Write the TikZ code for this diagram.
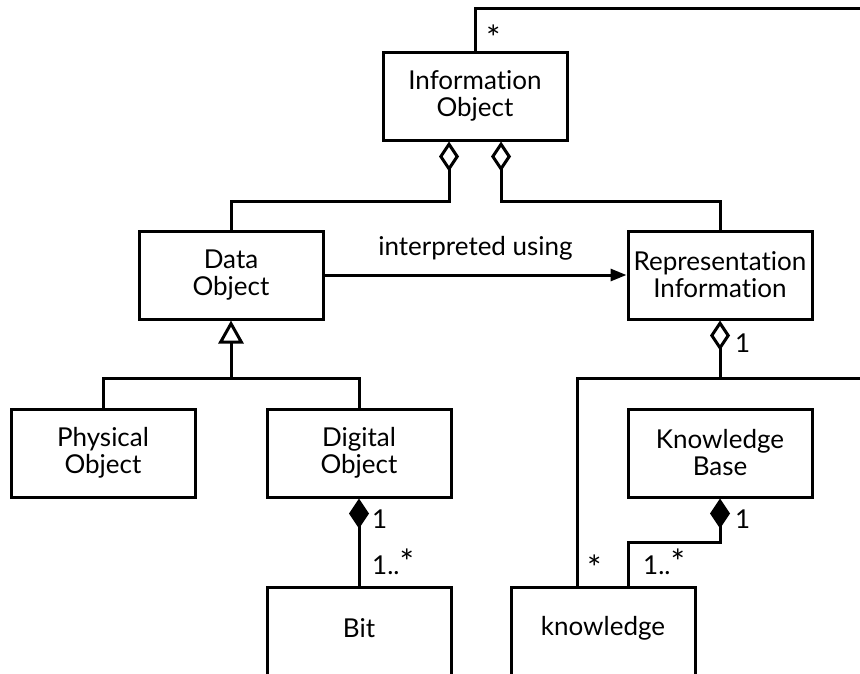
\documentclass[tikz,border=0pt]{standalone}
\usepackage{fontspec}
\setmainfont{Lato}[Ligatures=NoCommon]
\usetikzlibrary{arrows.meta}
\newcommand{\mstar}{{\fontsize{34}{34}\selectfont *}}
\begin{document}
\begin{tikzpicture}[x=1pt,y=-1pt,
  every node/.style={font=\fontsize{26}{27}\selectfont},
  cls/.style={draw, line width=3pt, minimum width=184pt, minimum height=88pt, align=center, inner sep=0pt},
  conn/.style={line width=3pt},
  agg/.style={conn, {Diamond[open, length=30pt, width=20pt]}-},
  comp/.style={conn, {Diamond[length=30pt, width=20pt]}-},
  gen/.style={conn, -{Triangle[open, length=23pt, width=25pt]}},
  nav/.style={conn, -{Triangle[length=16pt, width=12pt]}},
  mult/.style={anchor=base west, inner sep=0pt}]
\useasboundingbox (0,0) rectangle (860,673);
\clip (0,0) rectangle (860,673);

% classes
\node[cls] (io)   at (475,96)  {Information\\Object};
\node[cls] (dobj) at (231,275) {Data\\Object};
\node[cls] (rep)  at (720,275) {Representation\\Information};
\node[cls] (phys) at (103,453) {Physical\\Object};
\node[cls] (dig)  at (359,453) {Digital\\Object};
\node[cls] (kb)   at (720,453) {Knowledge\\Base};
\node[cls, minimum height=100pt] (bit)  at (359,637) {};
\node at (359,628) (bittxt) {Bit};
\node[cls, minimum height=100pt] (know) at (603,637) {};
\node at (603,628) (knowtxt) {knowledge};

% junction levels and free ends
\coordinate (j1) at (0,201);
\coordinate (j2) at (0,378);
\coordinate (j3) at (0,542);
\coordinate (top) at (880,8);
\coordinate (side) at (880,378);

% self association of Information Object
\draw[conn] (io.north) |- (top);
\node[mult] (m1) at (486,50) {\mstar};

% aggregations under Information Object
\draw[agg] ([xshift=-26pt]io.south) -- ([xshift=-26pt]io.south |- j1) -| (dobj.north);
\draw[agg] ([xshift=26pt]io.south) -- ([xshift=26pt]io.south |- j1) -| (rep.north);

% generalization
\draw[gen] (phys.north) |- (dobj.south |- j2) -- (dobj.south);
\draw[conn] (dig.north) |- (dobj.south |- j2);

% interpreted using
\draw[nav] (dobj.east) -- (rep.west)
  node[midway, anchor=base, yshift=20pt] (lbl) {interpreted using};

% Digital Object is made of Bits
\draw[comp] (dig.south) -- (bit.north);
\node[mult] (m2) at (372,528) {1};
\node[mult] (m3) at (372,574) {1..\mstar};

% Representation Information aggregates knowledge
\draw[agg] (rep.south) -- (rep.south |- j2);
\draw[conn] ([xshift=-26pt]know.north) |- (side);
\node[mult] (m4) at (735,352) {1};
\node[mult] (m5) at (587,580) {\mstar};

% Knowledge Base is made of knowledge
\draw[comp] (kb.south) -- (kb.south |- j3) -| ([xshift=25pt]know.north);
\node[mult] (m6) at (735,528) {1};
\node[mult] (m7) at (643,574) {1..\mstar};
\end{tikzpicture}
\end{document}
